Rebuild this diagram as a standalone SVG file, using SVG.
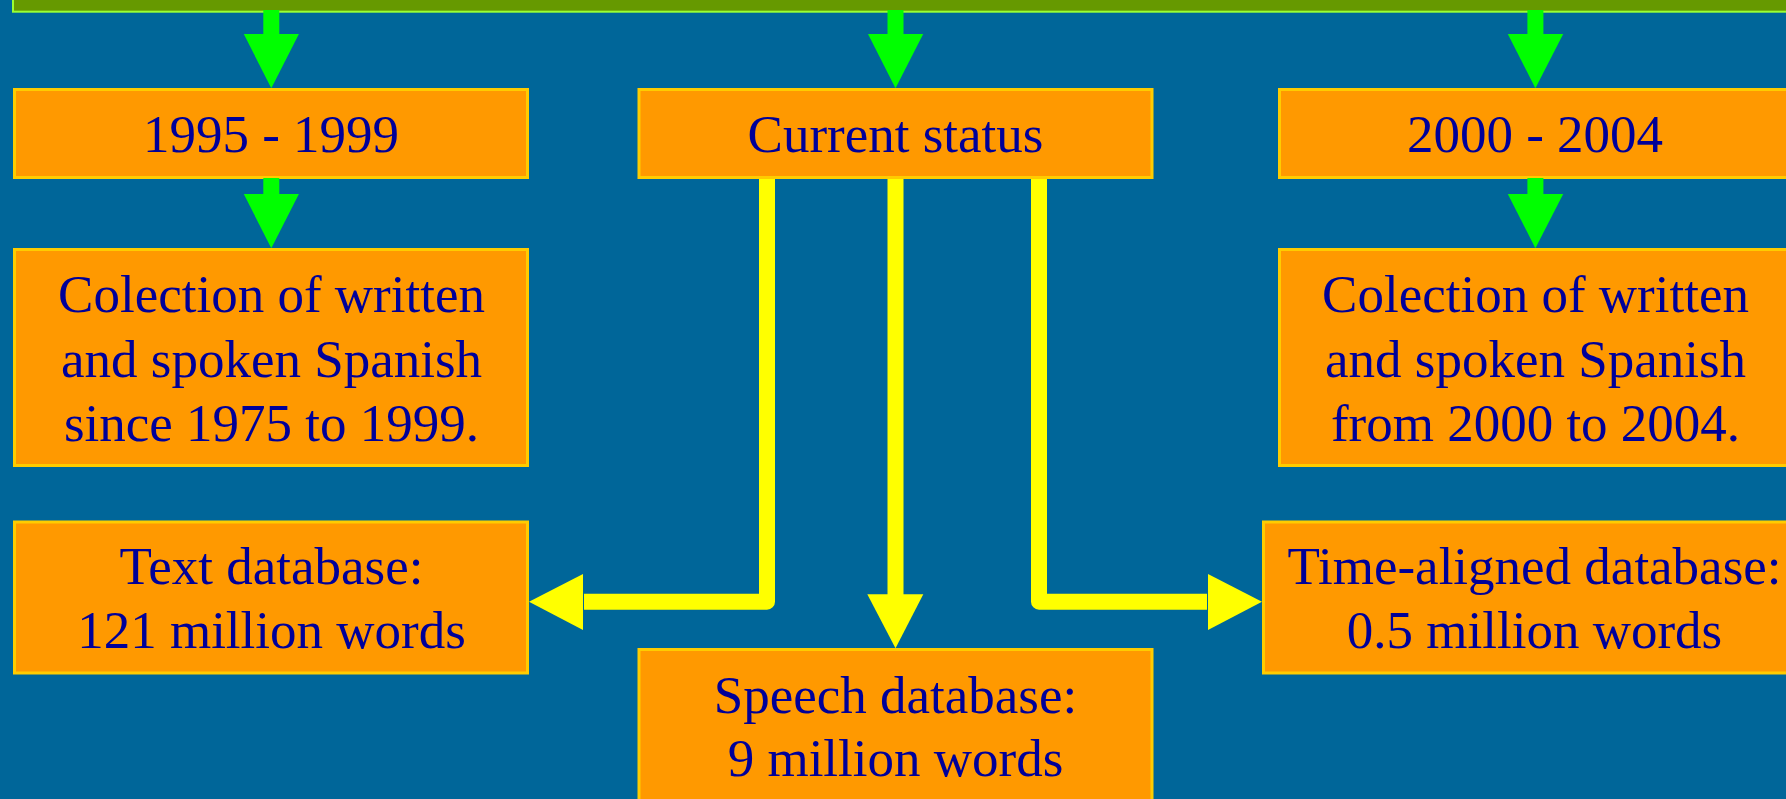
<svg xmlns="http://www.w3.org/2000/svg" width="1786" height="799" viewBox="0 0 1786 799">
  <style>
    .box { fill: #FF9900; stroke: #FFCC00; stroke-width: 3; }
    .top { fill: #669900; stroke: #99FF33; stroke-width: 2; }
    .lbl { font-family: "Liberation Serif", "Times New Roman", serif; font-size: 53px; fill: #000099; text-anchor: middle; }
    .gshaft { fill: #00FF00; }
    .ghead { fill: #00FF00; }
    .yline { fill: none; stroke: #FFFF00; stroke-width: 16; stroke-linejoin: round; }
    .yhead { fill: #FFFF00; }
  </style>
  <rect x="0" y="0" width="1786" height="799" fill="#006699"/>

  <g id="top-banner">
    <rect class="top" x="13" y="-100" width="1900" height="111.7"/>
  </g>

  <g id="node-1995">
    <rect class="box" x="14.5" y="89.5" width="513" height="88"/>
    <text class="lbl" x="271" y="152">1995 - 1999</text>
  </g>
  <g id="node-current">
    <rect class="box" x="639" y="89.5" width="513" height="88"/>
    <text class="lbl" x="895.5" y="152">Current status</text>
  </g>
  <g id="node-2000">
    <rect class="box" x="1279.5" y="89.5" width="513" height="88"/>
    <text class="lbl" x="1535" y="152">2000 - 2004</text>
  </g>
  <g id="node-colection-left">
    <rect class="box" x="14.5" y="249.5" width="513" height="216"/>
    <text class="lbl" x="271.5" y="312.3">Colection of written</text>
    <text class="lbl" x="271.5" y="376.7">and spoken Spanish</text>
    <text class="lbl" x="271.5" y="440.7">since 1975 to 1999.</text>
  </g>
  <g id="node-colection-right">
    <rect class="box" x="1279.5" y="249.5" width="513" height="216"/>
    <text class="lbl" x="1535.5" y="312.3">Colection of written</text>
    <text class="lbl" x="1535.5" y="376.7">and spoken Spanish</text>
    <text class="lbl" x="1535.5" y="440.7">from 2000 to 2004.</text>
  </g>
  <g id="node-text-db">
    <rect class="box" x="14.5" y="522" width="513" height="151"/>
    <text class="lbl" x="271.5" y="584.3">Text database:</text>
    <text class="lbl" x="271.5" y="648.3">121 million words</text>
  </g>
  <g id="node-time-aligned">
    <rect class="box" x="1263.5" y="522" width="545" height="151"/>
    <text class="lbl" x="1534.5" y="584.3">Time-aligned database:</text>
    <text class="lbl" x="1534.5" y="648.3">0.5 million words</text>
  </g>
  <g id="node-speech">
    <rect class="box" x="639" y="649.5" width="513" height="151"/>
    <text class="lbl" x="895.5" y="712.7">Speech database:</text>
    <text class="lbl" x="895.5" y="776">9 million words</text>
  </g>

  <g id="connectors">
    <!-- green arrows from banner -->
    <rect class="gshaft" x="263.3" y="10" width="16" height="25"/>
    <polygon class="ghead" points="243.8,34 298.9,34 271.3,88.3"/>
    <rect class="gshaft" x="887.5" y="10" width="16" height="25"/>
    <polygon class="ghead" points="868,34 923.2,34 895.5,88.3"/>
    <rect class="gshaft" x="1527.4" y="10" width="16" height="25"/>
    <polygon class="ghead" points="1507.8,34 1563.2,34 1535.4,88.3"/>
    <!-- green arrows to collection boxes -->
    <rect class="gshaft" x="263.3" y="178" width="16" height="17"/>
    <polygon class="ghead" points="243.8,194 298.9,194 271.3,248.3"/>
    <rect class="gshaft" x="1527.4" y="178" width="16" height="17"/>
    <polygon class="ghead" points="1507.8,194 1563.2,194 1535.4,248.3"/>
    <!-- yellow connectors from Current status -->
    <path class="yline" d="M767,179 V601.7 H584"/>
    <polygon class="yhead" points="583,574 583,630 529,601.7"/>
    <path class="yline" d="M895.5,179 V596"/>
    <polygon class="yhead" points="867.3,594.3 923.3,594.3 895.5,648.3"/>
    <path class="yline" d="M1039,179 V601.7 H1207"/>
    <polygon class="yhead" points="1208,574 1208,630 1262,601.7"/>
  </g>
</svg>
